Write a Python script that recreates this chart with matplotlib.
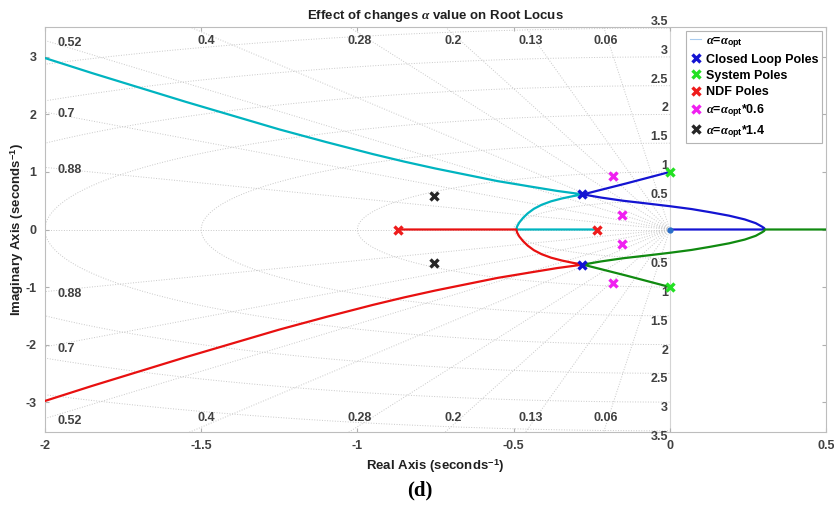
import numpy as np
import matplotlib
matplotlib.use('Agg')
import matplotlib.pyplot as plt
from matplotlib.lines import Line2D

plt.rcParams['font.family'] = ['Liberation Sans', 'DejaVu Sans']
plt.rcParams['font.weight'] = 'bold'
plt.rcParams['axes.unicode_minus'] = False
plt.rcParams['mathtext.fontset'] = 'custom'
plt.rcParams['mathtext.rm'] = 'Liberation Sans:bold'
plt.rcParams['mathtext.bf'] = 'Liberation Sans:bold'
plt.rcParams['mathtext.it'] = 'Liberation Serif:italic'

# grid values (sgrid)
damping = [0.06, 0.13, 0.2, 0.28, 0.4, 0.52, 0.7, 0.88]
wn_list = [0.5, 1, 1.5, 2, 2.5, 3, 3.5]

# poles
cl_poles = [complex(-0.28, 0.61), complex(-0.28, -0.61)]
sys_poles = [complex(0, 1), complex(0, -1)]
ndf_poles = [complex(-0.87, 0), complex(-0.234, 0)]
poles_06 = [complex(-0.182, 0.93), complex(-0.154, 0.25),
            complex(-0.154, -0.25), complex(-0.182, -0.93)]
poles_14 = [complex(-0.755, 0.585), complex(-0.755, -0.585)]
zeros = [complex(0, 0)]

# locus branches (upper half, lower half is the conjugate)
cyan_re = [-0.234, -0.491, -0.489, -0.482, -0.470, -0.455, -0.435, -0.410,
           -0.380, -0.345, -0.310, -0.278,
           -0.36, -0.45, -0.55, -0.65, -0.75, -0.85, -0.95, -1.10,
           -1.25, -1.40, -1.55, -1.70, -1.85, -2.0]
cyan_im = [0.0, 0.0, 0.05, 0.12, 0.20, 0.28, 0.36, 0.43,
           0.49, 0.54, 0.58, 0.61,
           0.67, 0.75, 0.84, 0.95, 1.06, 1.18, 1.31, 1.52,
           1.74, 1.98, 2.22, 2.47, 2.72, 2.98]
red_start = [-0.87, 0.0]

blue_re = [0.0, -0.14, -0.278, -0.22, -0.15, -0.07, 0.0, 0.07, 0.13, 0.19,
           0.24, 0.275, 0.295, 0.302, 0.304, 0.0]
blue_im = [1.0, 0.80, 0.61, 0.555, 0.50, 0.45, 0.405, 0.355, 0.30, 0.24,
           0.175, 0.11, 0.05, 0.025, 0.0, 0.0]
green_end = [0.55, 0.0]

fig = plt.figure(figsize=(8.34, 5.15), dpi=100)
ax = fig.add_axes([45 / 834, 83 / 515, 781 / 834, 405 / 515])

gcol = '#c8c8c8'
tcol = '#404040'
xmin, xmax, ymin, ymax = -2, 0.5, -3.52, 3.52

# damping lines
for z in damping:
    th = np.arccos(z)
    for s in (1, -1):
        ax.plot([0, -10 * np.cos(th)], [0, s * 10 * np.sin(th)], ':', color=gcol, lw=0.7, zorder=1)
ax.plot([-10, 0], [0, 0], ':', color=gcol, lw=0.7, zorder=1)
ax.plot([0, 0], [-10, 10], '-', color='#d4d4d4', lw=0.8, zorder=1)

# frequency circles
t = np.linspace(np.pi / 2, 3 * np.pi / 2, 200)
for w in wn_list:
    ax.plot(w * np.cos(t), w * np.sin(t), ':', color=gcol, lw=0.7, zorder=1)

# damping labels
for z in damping:
    tn = np.tan(np.arccos(z))
    xt = -3.4 / tn
    lab = ('%.2f' % z).rstrip('0').rstrip('.')
    if xt < xmin:
        ye = -xmin * tn
        for s in (1, -1):
            ax.text(xmin + 0.04, s * ye - 0.04, lab, ha='left', va='center',
                    color=tcol, fontsize=9, weight='bold')
    else:
        for s in (1, -1):
            ax.text(xt, s * 3.28, lab, ha='center', va='center',
                    color=tcol, fontsize=9, weight='bold')

# frequency labels
for w in wn_list:
    lab = ('%g' % w)
    ax.text(-0.005, w, lab, ha='right', va='bottom', color=tcol,
            fontsize=9, weight='bold', clip_on=False)
    ax.text(-0.005, -w, lab, ha='right', va='top', color=tcol,
            fontsize=9, weight='bold', clip_on=False)

# locus branches
cy_re = np.array(cyan_re)
cy_im = np.array(cyan_im)
ax.plot(cy_re, cy_im, color='#00b4c0', lw=1.6, zorder=3, solid_joinstyle='round')
red_re = np.concatenate([[red_start[0]], cy_re[1:]])
red_im = np.concatenate([[red_start[1]], -cy_im[1:]])
ax.plot(red_re, red_im, color='#e81010', lw=1.6, zorder=3, solid_joinstyle='round')
bl_re = np.array(blue_re)
bl_im = np.array(blue_im)
ax.plot(bl_re, bl_im, color='#1414d2', lw=1.6, zorder=3, solid_joinstyle='round')
gr_re = np.concatenate([bl_re[:-1], [green_end[0]]])
gr_im = np.concatenate([-bl_im[:-1], [green_end[1]]])
ax.plot(gr_re, gr_im, color='#108a10', lw=1.6, zorder=3, solid_joinstyle='round')

mk = dict(ls='none', marker='x', ms=5.5, mew=2.4, zorder=5)
h_cl, = ax.plot(np.real(cl_poles), np.imag(cl_poles), color='#1414d2', **mk)
h_sys, = ax.plot(np.real(sys_poles), np.imag(sys_poles), color='#22e022', **mk)
h_ndf, = ax.plot(np.real(ndf_poles), np.imag(ndf_poles), color='#ee1c1c', **mk)
h_06, = ax.plot(np.real(poles_06), np.imag(poles_06), color='#f020f0', **mk)
h_14, = ax.plot(np.real(poles_14), np.imag(poles_14), color='#262626', **mk)
ax.plot(np.real(zeros), np.imag(zeros), 'o', color='#2a6fc8', ms=3.5, zorder=5)

h_opt = Line2D([], [], color='#a8cbee', lw=0.8)

ax.set_xlim(xmin, xmax)
ax.set_ylim(ymin, ymax)
ax.set_xticks([-2, -1.5, -1, -0.5, 0, 0.5])
ax.set_xticklabels(['-2', '-1.5', '-1', '-0.5', '0', '0.5'])
ax.set_yticks([-3, -2, -1, 0, 1, 2, 3])
ax.tick_params(direction='in', length=3, width=0.8, colors='#b0b0b0',
               labelcolor=tcol, labelsize=9, top=True, right=True)
ax.tick_params(axis='x', pad=6)
ax.tick_params(axis='y', pad=6)
for lab in ax.get_xticklabels() + ax.get_yticklabels():
    lab.set_fontweight('bold')
for sp in ax.spines.values():
    sp.set_color('#bdbdbd')
    sp.set_linewidth(0.8)

ax.set_title(r'Effect of changes $\alpha$ value on Root Locus', fontsize=9.5,
             weight='bold', color='#202020', pad=6)
ax.set_xlabel(r'Real Axis (seconds$^{\mathbf{-1}}$)', fontsize=9.5, weight='bold', color='#202020')
ax.set_ylabel(r'Imaginary Axis (seconds$^{\mathbf{-1}}$)', fontsize=9.5, weight='bold', color='#202020')
ax.xaxis.set_label_coords(0.5, -0.062)
ax.yaxis.set_label_coords(-0.024, 0.5)

leg = ax.legend([h_opt, h_cl, h_sys, h_ndf, h_06, h_14],
                [r'$\alpha$=$\alpha_{\mathbf{opt}}$', 'Closed Loop Poles', 'System Poles', 'NDF Poles',
                 r'$\alpha$=$\alpha_{\mathbf{opt}}$*0.6', r'$\alpha$=$\alpha_{\mathbf{opt}}$*1.4'],
                loc='upper right', bbox_to_anchor=(822 / 834, 1 - 31 / 515),
                bbox_transform=fig.transFigure, borderaxespad=0, fancybox=False,
                edgecolor='#b4b4b4', framealpha=1, handlelength=0.9, handletextpad=0.35,
                borderpad=0.3, labelspacing=0.33, prop={'size': 9, 'weight': 'bold'})
leg.get_frame().set_linewidth(0.8)

fig.text(420 / 834, 1 - 490 / 515, '(d)', ha='center', va='center',
         family='Liberation Serif', weight='bold', fontsize=15)

fig.savefig('out.png', dpi=100)
